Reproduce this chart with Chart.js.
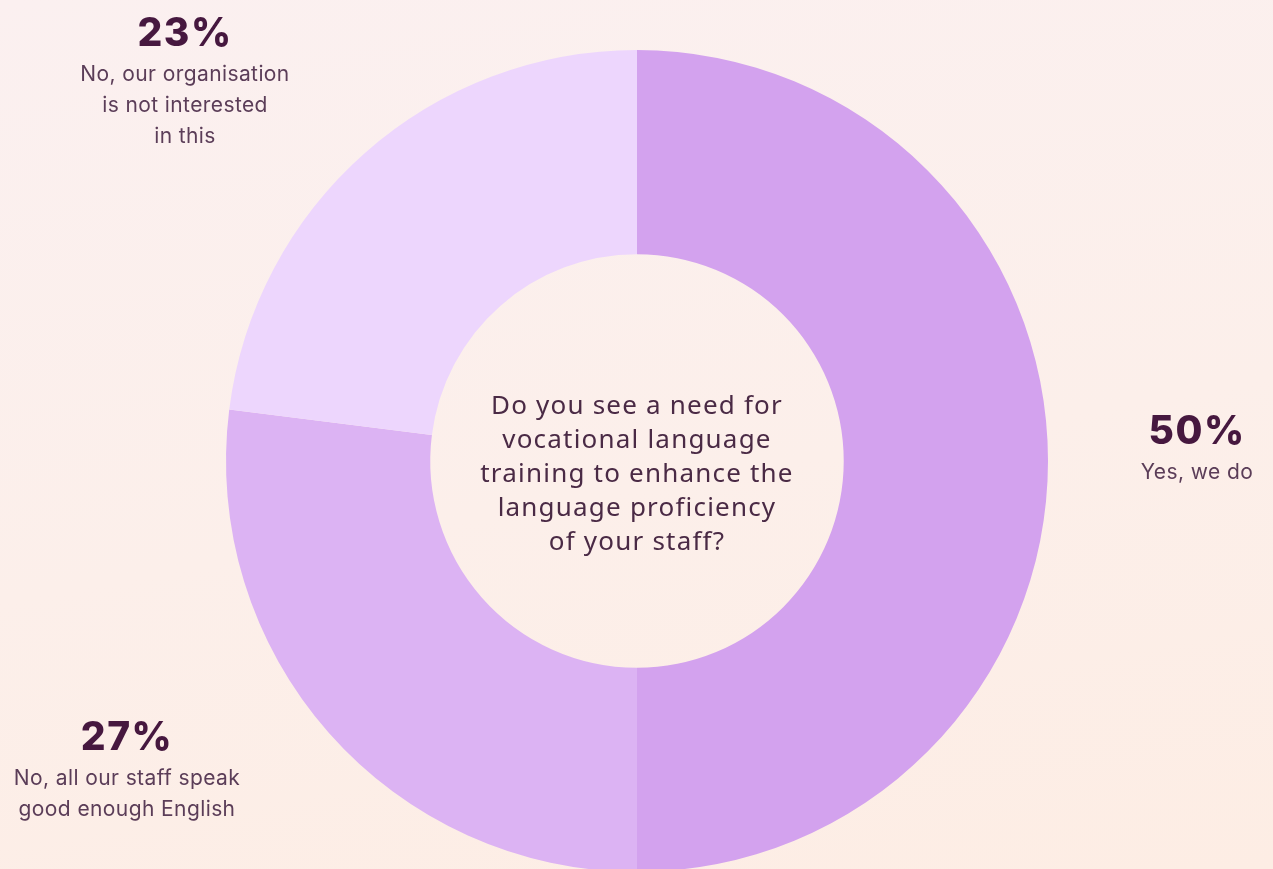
<!DOCTYPE html>
<html>
<head>
<meta charset="utf-8">
<script src="https://cdn.jsdelivr.net/npm/chart.js@4"></script>
<style>
  html, body { margin:0; padding:0; width:1273px; height:869px; overflow:hidden; }
  body { background: linear-gradient(170deg, #fbf0f0 0%, #fcefea 55%, #fdede4 100%); position:relative; font-family: Inter, "Noto Sans", sans-serif; }
  #wrap { position:absolute; left:0; top:0; width:1273px; height:900px; }
  .lbl { position:absolute; text-align:center; color:#5b3d58; font-size:21px; line-height:31px; letter-spacing:0.4px; }
  .lbl .pct { display:block; font-size:39px; font-weight:800; color:#46183f; line-height:40px; margin-bottom:6px; letter-spacing:1.5px; }
  #center { position:absolute; left:387px; width:500px; top:387px; text-align:center; color:#4a2a45; font-family: "Noto Sans", sans-serif; font-size:26px; line-height:34px; letter-spacing:1.2px; }
</style>
</head>
<body>
<div id="wrap"><canvas id="c" width="1273" height="900"></canvas></div>
<div id="center"></div>
<div class="lbl" id="l0" style="left:1047px; top:410px; width:300px;"></div>
<div class="lbl" id="l1" style="left:-23px; top:716px; width:300px;"></div>
<div class="lbl" id="l2" style="left:35px; top:12px; width:300px;"></div>
<script>
const categories = ["Yes, we do", "No, all our staff speak good enough English", "No, our organisation is not interested in this"];
const labelLines = [["Yes, we do"], ["No, all our staff speak", "good enough English"], ["No, our organisation", "is not interested", "in this"]];
const values = [50, 27, 23];
const colors = ["#d3a2ee", "#dcb3f3", "#edd6fd"];
const question = ["Do you see a need for", "vocational language", "training to enhance the", "language proficiency", "of your staff?"];

document.getElementById('center').innerHTML = question.join('<br>');
values.forEach((v, i) => {
  document.getElementById('l' + i).innerHTML = '<span class="pct">' + v + '%</span>' + labelLines[i].join('<br>');
});

new Chart(document.getElementById('c'), {
  type: 'doughnut',
  data: {
    labels: categories,
    datasets: [{
      data: values,
      backgroundColor: colors,
      borderWidth: 0,
      hoverOffset: 0
    }]
  },
  options: {
    responsive: false,
    animation: false,
    cutout: '50.3%',
    rotation: 0,
    layout: { padding: { top: 50, bottom: 28, left: 226, right: 225 } },
    plugins: { legend: { display: false }, tooltip: { enabled: false } }
  }
});
</script>
</body>
</html>
